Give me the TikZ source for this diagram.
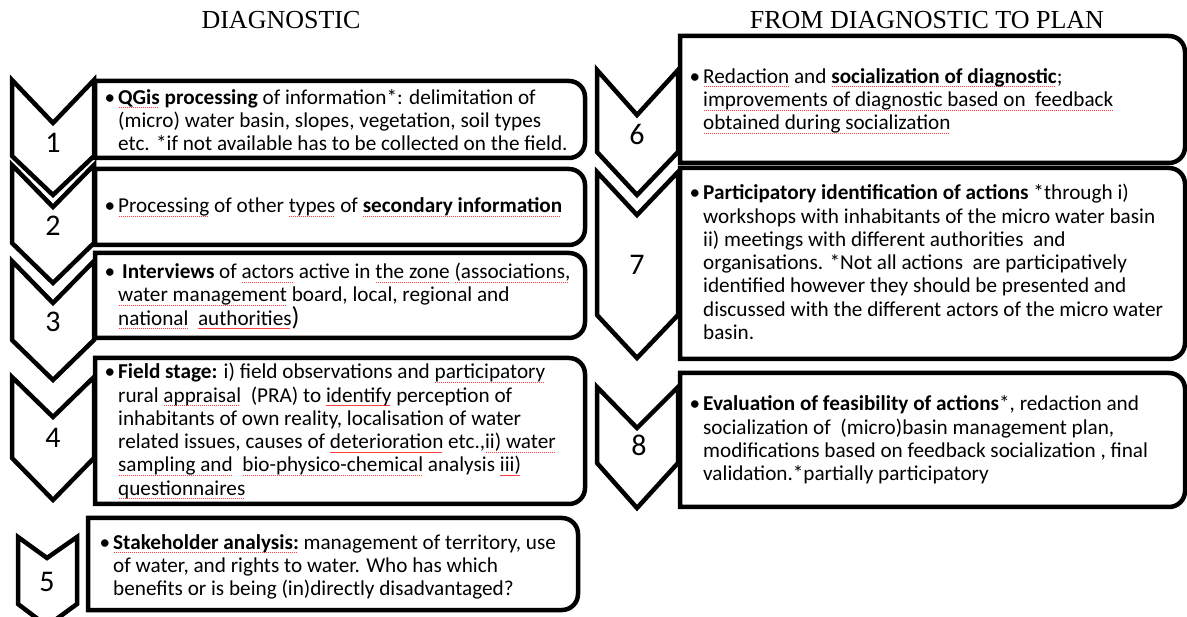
\documentclass[tikz,border=0pt]{standalone}
\usepackage{fontspec}
\setmainfont{Carlito}
\newfontfamily\titlefont{Liberation Serif}
\newcommand\sq[1]{\setbox0\hbox{#1}\rlap{\color{red!75}\raisebox{-3.5pt}[0pt][0pt]{\leaders\hbox to 2pt{\hss\rule{1.2pt}{0.6pt}\hss}\hskip\wd0}}\box0\relax}
\begin{document}
\begin{tikzpicture}[x=1pt,y=-1pt,
  chev/.style={draw=black,fill=white,line width=4.5pt,line join=miter},
  boxsh/.style={draw=black,fill=white,line width=4.5pt},
  num/.style={font=\fontsize{30}{30}\selectfont,inner sep=0pt},
  txt/.style={font=\fontsize{21.2}{23.3}\selectfont,anchor=west,align=left,inner sep=0pt},
  ttl/.style={font=\titlefont\fontsize{26}{26}\selectfont,inner sep=0pt,anchor=base}]
\useasboundingbox (0,0) rectangle (1187,617);
\newcommand\bul{\llap{•\hspace{3pt}}}
% titles
\node[ttl] (title1) at (281,29) {DIAGNOSTIC};
\node[ttl] (title2) at (927,29) {FROM DIAGNOSTIC TO PLAN};
% left boxes
\draw[boxsh] (95,158) -- (95,81) {[rounded corners=16] -- (585,81) -- (585,158)} -- cycle;
\draw[boxsh] (95,245) -- (95,169) {[rounded corners=16] -- (585,169) -- (585,245)} -- cycle;
\draw[boxsh] (95,338) -- (95,253) {[rounded corners=16] -- (585,253) -- (585,338)} -- cycle;
\draw[boxsh] (95,504) -- (95,358) {[rounded corners=16] -- (585,358) -- (585,504)} -- cycle;
\draw[boxsh] (88,610) -- (88,518) {[rounded corners=16] -- (578,518) -- (578,610)} -- cycle;
% right boxes
\draw[boxsh] (680,163) -- (680,36) {[rounded corners=16] -- (1185,36) -- (1185,163)} -- cycle;
\draw[boxsh] (680,359) -- (680,168) {[rounded corners=16] -- (1185,168) -- (1185,359)} -- cycle;
\draw[boxsh] (680,507) -- (680,373) {[rounded corners=16] -- (1185,373) -- (1185,507)} -- cycle;
% left chevrons
\draw[chev] (12,80) -- (53,123) -- (94,80) -- (94,156) -- (53,195) -- (12,156) -- cycle;
\draw[chev] (12,165) -- (53,207) -- (94,165) -- (94,243) -- (53,283) -- (12,243) -- cycle;
\draw[chev] (12,261) -- (53,303) -- (94,261) -- (94,340) -- (53,380) -- (12,340) -- cycle;
\draw[chev] (12,377) -- (53,417) -- (94,377) -- (94,458) -- (53,500) -- (12,458) -- cycle;
\draw[chev] (18,537) -- (47,558) -- (77,537) -- (77,604) -- (47,626) -- (18,604) -- cycle;
% right chevrons
\draw[chev] (597,70) -- (637,115) -- (678,70) -- (678,152) -- (637,195) -- (597,152) -- cycle;
\draw[chev] (597,172) -- (637,215) -- (678,172) -- (678,315) -- (637,358) -- (597,315) -- cycle;
\draw[chev] (597,387) -- (637,428) -- (678,387) -- (678,463) -- (637,508) -- (597,463) -- cycle;
% numbers
\node[num] (n1) at (53,143) {1};
\node[num] (n2) at (53,226) {2};
\node[num] (n3) at (53,322) {3};
\node[num] (n4) at (53,438) {4};
\node[num] (n5) at (47,582) {5};
\node[num] (n6) at (637,134) {6};
\node[num] (n7) at (637,265) {7};
\node[num] (n8) at (639,445) {8};
% texts
\node[txt] (t1) at (118,120) {\bul\textbf{\sq{QGis} processing} of information*: delimitation of\\(micro) water basin, slopes, vegetation, soil types\\etc. *if not available has to be collected on the field.};
\node[txt] (t2) at (118,207) {\bul \sq{Processing} of other \sq{types} of \sq{\textbf{secondary information}}};
\node[txt] (t3) at (118,296) {\bul\hspace{4pt}\textbf{Interviews} of \sq{actors} active in \sq{the zone} \sq{(associations,}\\\sq{water management} board, local, regional and\\\sq{national}\ \ \sq{authorities}{\fontsize{26}{23}\selectfont)}};
\node[txt] (t4) at (118,431) {\bul\textbf{Field stage:} i) field observations and \sq{participatory}\\rural \sq{appraisal}\ \ (PRA) to \sq{identify} perception of\\inhabitants of own reality, localisation of water\\related issues, causes of \sq{deterioration} etc.,\sq{ii) water}\\\sq{sampling and}\ \ \sq{bio-physico-chemical} analysis \sq{iii)}\\\sq{questionnaires}};
\node[txt] (t5) at (113,567) {\bul\sq{\textbf{Stakeholder analysis:}} management of territory, use\\of water, and rights to water. Who has which\\benefits or is being (in)directly disadvantaged?};
\node[txt] (t6) at (703,101) {\bul \sq{Redaction} and \sq{\textbf{socialization of diagnostic}};\\\sq{improvements of diagnostic based on\ \ feedback}\\\sq{obtained during socialization}};
\node[txt] (t7) at (703,262) {\bul\textbf{Participatory identification of actions} *through i)\\workshops with inhabitants of the micro water basin\\ii) meetings with different authorities\ \ and\\organisations. *Not all actions\ \ are participatively\\identified however they should be presented and\\discussed with the different actors of the micro water\\basin.};
\node[txt] (t8) at (703,440) {\bul\textbf{Evaluation of feasibility of actions}*, redaction and\\socialization of\ \ (micro)basin management plan,\\modifications based on feedback socialization , final\\validation.*partially participatory};
\end{tikzpicture}
\end{document}
